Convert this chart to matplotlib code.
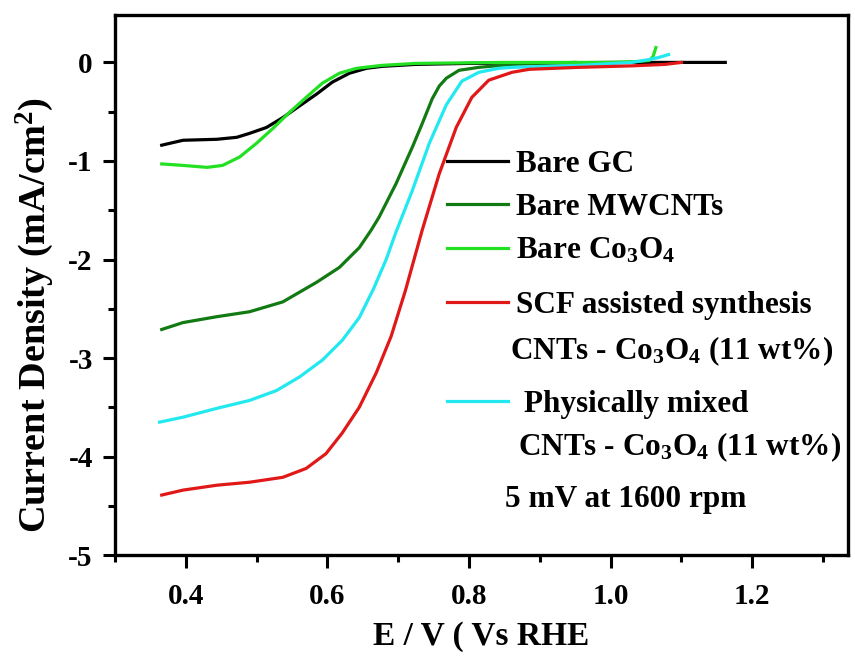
"""LSV curves (ORR) at 1600 rpm: bare electrodes vs CNT-Co3O4 composites."""
import matplotlib
matplotlib.use('Agg')
import matplotlib.pyplot as plt
from matplotlib.ticker import MultipleLocator

plt.rcParams['font.family'] = 'Liberation Serif'
plt.rcParams['font.weight'] = 'bold'
plt.rcParams['axes.unicode_minus'] = False
plt.rcParams['mathtext.fontset'] = 'custom'
plt.rcParams['mathtext.rm'] = 'Liberation Serif:bold'
plt.rcParams['mathtext.it'] = 'Liberation Serif:italic:bold'
plt.rcParams['mathtext.bf'] = 'Liberation Serif:bold'
plt.rcParams['mathtext.default'] = 'rm'

# values (E in V vs RHE, j in mA/cm2)
gc_E = [0.366, 0.396, 0.444, 0.472, 0.49, 0.514, 0.537, 0.561, 0.585, 0.607,
        0.631, 0.655, 0.677, 0.725, 0.80, 1.0, 1.162]
gc_j = [-0.84, -0.79, -0.78, -0.76, -0.72, -0.66, -0.56, -0.44, -0.32, -0.20,
        -0.11, -0.06, -0.04, -0.02, -0.01, 0.0, 0.0]

mwcnt_E = [0.366, 0.396, 0.444, 0.49, 0.537, 0.585, 0.617, 0.645, 0.662, 0.673,
           0.697, 0.72, 0.734, 0.748, 0.758, 0.768, 0.786, 0.814, 0.861, 0.95]
mwcnt_j = [-2.71, -2.64, -2.58, -2.53, -2.43, -2.23, -2.08, -1.88, -1.70, -1.57,
           -1.23, -0.86, -0.62, -0.37, -0.24, -0.16, -0.08, -0.05, -0.02, 0.0]

co3o4_E = [0.366, 0.396, 0.43, 0.452, 0.476, 0.50, 0.523, 0.546, 0.57, 0.593,
           0.617, 0.641, 0.677, 0.725, 0.85, 1.0, 1.04, 1.055, 1.06, 1.064]
co3o4_j = [-1.03, -1.045, -1.065, -1.045, -0.96, -0.82, -0.67, -0.51, -0.355, -0.21,
           -0.11, -0.06, -0.03, -0.01, 0.0, 0.0, 0.01, 0.02, 0.06, 0.15]

scf_E = [0.366, 0.396, 0.444, 0.49, 0.537, 0.57, 0.598, 0.621, 0.645, 0.669,
         0.69, 0.71, 0.734, 0.758, 0.782, 0.804, 0.828, 0.861, 0.885, 0.955,
         1.03, 1.077, 1.10]
scf_j = [-4.39, -4.34, -4.29, -4.26, -4.21, -4.12, -3.97, -3.76, -3.50, -3.15,
         -2.78, -2.32, -1.70, -1.13, -0.66, -0.355, -0.18, -0.10, -0.07, -0.05,
         -0.035, -0.02, 0.0]

mix_E = [0.363, 0.396, 0.444, 0.49, 0.528, 0.561, 0.593, 0.621, 0.645, 0.665,
         0.683, 0.697, 0.72, 0.744, 0.768, 0.79, 0.814, 0.842, 0.861, 0.955,
         1.03, 1.055, 1.068, 1.082]
mix_j = [-3.65, -3.60, -3.51, -3.43, -3.33, -3.19, -3.02, -2.82, -2.59, -2.30,
         -2.00, -1.72, -1.30, -0.82, -0.43, -0.19, -0.10, -0.06, -0.05, -0.03,
         0.0, 0.03, 0.05, 0.08]

FS = 22.5
LW = 2.3

fig = plt.figure(figsize=(8.55, 6.57), dpi=100)
ax = fig.add_axes([0.1345, 0.155, 0.857, 0.822])

l_gc, = ax.plot(gc_E, gc_j, color='black', lw=LW, label='Bare GC')
l_mw, = ax.plot(mwcnt_E, mwcnt_j, color='#127a12', lw=LW, label='Bare MWCNTs')
l_co, = ax.plot(co3o4_E, co3o4_j, color='#22e022', lw=LW, label='Bare Co$_3$O$_4$')
l_mix, = ax.plot(mix_E, mix_j, color='#22e8f0', lw=LW, label=' Physically mixed')
l_scf, = ax.plot(scf_E, scf_j, color='#e01818', lw=LW, label='SCF assisted synthesis')

ax.set_xlim(0.3, 1.335)
ax.set_ylim(-5, 0.48)
ax.xaxis.set_major_locator(MultipleLocator(0.2))
ax.xaxis.set_minor_locator(MultipleLocator(0.1))
ax.yaxis.set_major_locator(MultipleLocator(1))
ax.yaxis.set_minor_locator(MultipleLocator(0.5))
ax.set_xticks([0.4, 0.6, 0.8, 1.0, 1.2])
ax.set_xticklabels(['0.4', '0.6', '0.8', '1.0', '1.2'])
ax.tick_params(which='major', direction='out', length=9, width=2.2, labelsize=21)
ax.tick_params(axis='x', which='major', pad=11)
ax.tick_params(axis='y', which='major', pad=7)
ax.tick_params(which='minor', direction='out', length=5, width=2.2)
for sp in ax.spines.values():
    sp.set_linewidth(2.4)

ax.set_xlabel('E / V ( Vs RHE', fontsize=24, fontweight='bold', labelpad=8)
ax.set_ylabel('Current Density (mA/cm$^2$)', fontsize=27.5, fontweight='bold')
ax.yaxis.set_label_coords(-0.08, 0.444)

leg_kw = dict(frameon=False, fontsize=FS, handlelength=1.95, handletextpad=0.27,
              borderaxespad=0, borderpad=0, loc='upper left')
leg1 = ax.legend(handles=[l_gc, l_mw, l_co], labelspacing=0.45,
                 bbox_to_anchor=(0.453, 0.75), **leg_kw)
ax.add_artist(leg1)
leg2 = ax.legend(handles=[l_scf], bbox_to_anchor=(0.453, 0.49), **leg_kw)
ax.add_artist(leg2)
ax.legend(handles=[l_mix], bbox_to_anchor=(0.453, 0.306), **leg_kw)

ax.text(0.539, 0.362, 'CNTs - Co$_3$O$_4$ (11 wt%)', transform=ax.transAxes,
        fontsize=FS, va='baseline', ha='left')
ax.text(0.55, 0.185, 'CNTs - Co$_3$O$_4$ (11 wt%)', transform=ax.transAxes,
        fontsize=FS, va='baseline', ha='left')
ax.text(0.532, 0.09, '5 mV at 1600 rpm', transform=ax.transAxes,
        fontsize=FS, va='baseline', ha='left')

fig.savefig('out.png', dpi=100)
